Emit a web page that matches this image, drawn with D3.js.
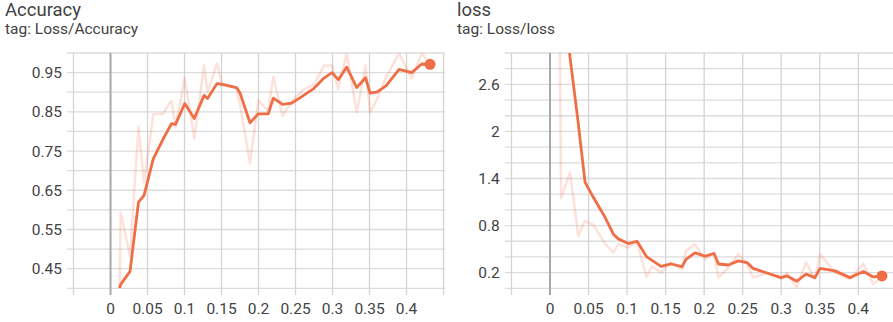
<!DOCTYPE html>
<html>
<head>
<meta charset="utf-8">
<script src="https://cdn.jsdelivr.net/npm/d3@7"></script>
<style>
  body { margin: 0; background: #fff; font-family: Roboto, "Noto Sans", sans-serif; }
  svg text { fill: #424242; }
</style>
</head>
<body>
<div id="chart"></div>
<script>
// relative time (x) shared shape
var accSteps = [0.0122, 0.0138, 0.0264, 0.0378, 0.0453, 0.0578, 0.0709, 0.0824, 0.0878, 0.1003,
  0.1132, 0.1264, 0.1311, 0.1439, 0.1507, 0.1703, 0.1750, 0.1885, 0.1997, 0.2132,
  0.2200, 0.2324, 0.2449, 0.2595, 0.2750, 0.2885, 0.2993, 0.3078, 0.3192, 0.3327,
  0.3446, 0.3507, 0.3597, 0.3723, 0.3899, 0.4070, 0.4205, 0.4318];
var accRaw = [0.40, 0.593, 0.482, 0.812, 0.67, 0.844, 0.845, 0.879, 0.811, 0.936,
  0.782, 0.968, 0.90, 0.974, 0.922, 0.91, 0.87, 0.718, 0.880, 0.852,
  0.939, 0.840, 0.877, 0.905, 0.92, 0.968, 0.968, 0.908, 1.0, 0.848,
  0.968, 0.848, 0.88, 0.938, 0.999, 0.935, 0.999, 0.973];
var accSmooth = [0.40, 0.41, 0.443, 0.62, 0.637, 0.73, 0.78, 0.82, 0.818, 0.871,
  0.833, 0.892, 0.884, 0.922, 0.92, 0.912, 0.898, 0.822, 0.845, 0.845,
  0.885, 0.869, 0.872, 0.89, 0.91, 0.936, 0.95, 0.932, 0.964, 0.912,
  0.937, 0.898, 0.90, 0.916, 0.958, 0.95, 0.972, 0.971];

var lossSteps = [0.0110, 0.0143, 0.0259, 0.0367, 0.0454, 0.0562, 0.0714, 0.0822, 0.0886, 0.1016,
  0.1129, 0.1255, 0.1319, 0.1440, 0.1570, 0.1713, 0.1764, 0.1881, 0.2011, 0.2128,
  0.2186, 0.2313, 0.2443, 0.2556, 0.2634, 0.2815, 0.2997, 0.3075, 0.3201, 0.3321,
  0.3438, 0.3503, 0.3697, 0.3892, 0.4065, 0.4194, 0.4307];
var lossRaw = [5.5, 1.15, 1.48, 0.67, 0.86, 0.81, 0.57, 0.456, 0.564, 0.52,
  0.585, 0.14, 0.28, 0.2, 0.33, 0.24, 0.48, 0.56, 0.37, 0.456,
  0.136, 0.264, 0.436, 0.308, 0.14, 0.19, 0.12, 0.2, 0.01, 0.33,
  0.115, 0.436, 0.2, 0.115, 0.315, 0.05, 0.158];
var lossSmooth = [5.5, 4.2, 2.95, 2.1, 1.354, 1.16, 0.905, 0.69, 0.63, 0.57,
  0.6, 0.40, 0.36, 0.28, 0.31, 0.275, 0.37, 0.452, 0.41, 0.444,
  0.31, 0.297, 0.35, 0.328, 0.254, 0.195, 0.136, 0.158, 0.09, 0.18,
  0.136, 0.254, 0.222, 0.136, 0.213, 0.145, 0.158];

var xTicks = [-0.05, 0, 0.05, 0.1, 0.15, 0.2, 0.25, 0.3, 0.35, 0.4, 0.45];
var xLabels = [0, 0.05, 0.1, 0.15, 0.2, 0.25, 0.3, 0.35, 0.4];
var accGrid = d3.range(0.40, 1.0001, 0.05);
var accLabels = [0.45, 0.55, 0.65, 0.75, 0.85, 0.95];
var lossGrid = d3.range(0, 3.0001, 0.2);
var lossLabels = [0.2, 0.8, 1.4, 2, 2.6];

var lineColor = '#ef6e46';

var svg = d3.select('#chart').append('svg').attr('width', 893).attr('height', 322);

function drawPanel(opt) {
  var g = svg.append('g');
  var x = d3.scaleLinear().domain([-0.0588, 0.452]).range(opt.xRange);
  var y = d3.scaleLinear().domain(opt.yDomain).range([288.3, 53]);

  g.append('text').attr('x', opt.left).attr('y', 16).style('font-size', '18.5px').text(opt.title);
  g.append('text').attr('x', opt.left).attr('y', 33.5).style('font-size', '15.5px').text(opt.tag);

  var clipId = 'clip' + opt.title;
  svg.append('clipPath').attr('id', clipId).append('rect')
    .attr('x', opt.xRange[0]).attr('y', 53).attr('width', opt.xRange[1] - opt.xRange[0]).attr('height', 235.3);

  // horizontal grid
  g.selectAll('.hg').data(opt.grid).enter().append('line')
    .attr('x1', opt.xRange[0]).attr('x2', opt.xRange[1])
    .attr('y1', function(d) { return y(d); }).attr('y2', function(d) { return y(d); })
    .attr('stroke', '#dcdcdc').attr('stroke-width', 1.3);

  // vertical grid with ticks below the plot
  g.selectAll('.vg').data(xTicks).enter().append('line')
    .attr('x1', function(d) { return x(d); }).attr('x2', function(d) { return x(d); })
    .attr('y1', 53).attr('y2', 295)
    .attr('stroke', function(d) { return d === 0 ? '#a8a8a8' : '#d4d4d4'; })
    .attr('stroke-width', function(d) { return d === 0 ? 2 : 1.3; });

  g.selectAll('.xl').data(xLabels).enter().append('text')
    .attr('x', function(d) { return x(d); }).attr('y', 314)
    .attr('text-anchor', 'middle').style('font-size', '15.5px')
    .text(function(d) { return d; });

  g.selectAll('.yl').data(opt.labels).enter().append('text')
    .attr('x', opt.xRange[0] - 5).attr('y', function(d) { return y(d) + 5.5; })
    .attr('text-anchor', 'end').style('font-size', '15.5px')
    .text(function(d) { return d; });

  var pts = opt.steps.map(function(s, i) { return { x: s, raw: opt.raw[i], sm: opt.smooth[i] }; });
  var plot = g.append('g').attr('clip-path', 'url(#' + clipId + ')');

  plot.append('path').datum(pts)
    .attr('d', d3.line().x(function(d) { return x(d.x); }).y(function(d) { return y(d.raw); }))
    .attr('fill', 'none').attr('stroke', lineColor).attr('stroke-opacity', 0.2)
    .attr('stroke-width', 2.5).attr('stroke-linejoin', 'round');

  plot.append('path').datum(pts)
    .attr('d', d3.line().x(function(d) { return x(d.x); }).y(function(d) { return y(d.sm); }))
    .attr('fill', 'none').attr('stroke', lineColor)
    .attr('stroke-width', 2.8).attr('stroke-linejoin', 'round');

  var last = pts[pts.length - 1];
  g.append('circle').attr('cx', x(last.x)).attr('cy', y(last.sm)).attr('r', 5.5).attr('fill', lineColor);
}

drawPanel({
  title: 'Accuracy', tag: 'tag: Loss/Accuracy', left: 5,
  xRange: [67, 445], yDomain: [0.4, 1.0], grid: accGrid, labels: accLabels,
  steps: accSteps, raw: accRaw, smooth: accSmooth
});

drawPanel({
  title: 'loss', tag: 'tag: Loss/loss', left: 457,
  xRange: [504.7, 898.4], yDomain: [0, 3.0], grid: lossGrid, labels: lossLabels,
  steps: lossSteps, raw: lossRaw, smooth: lossSmooth
});
</script>
</body>
</html>
